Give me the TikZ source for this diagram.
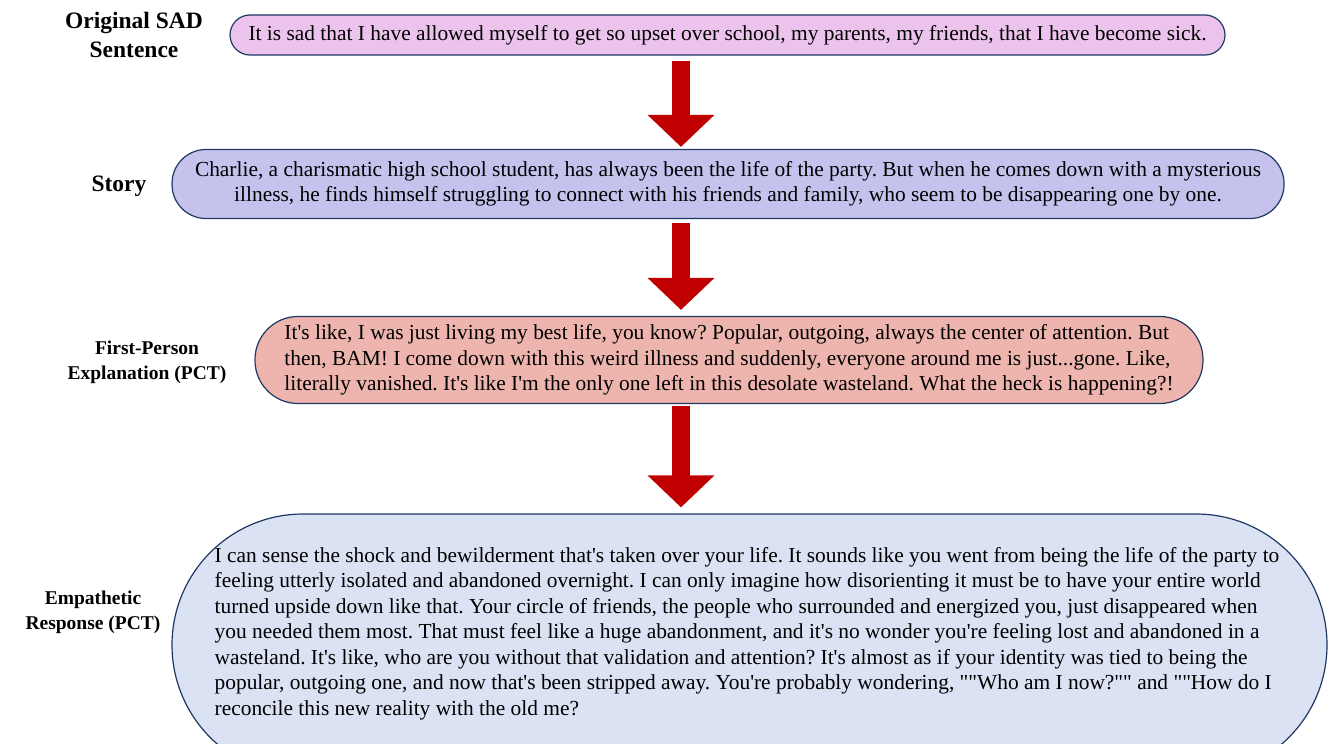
\documentclass[tikz,border=0pt]{standalone}
\usepackage{fontspec}
\setmainfont{Liberation Serif}[Ligatures=TeXOff]
\usepackage{xcolor}
\usetikzlibrary{arrows.meta}
\definecolor{boxline}{HTML}{1F3864}
\definecolor{sadfill}{HTML}{ECC3EC}
\definecolor{storyfill}{HTML}{C5C2EE}
\definecolor{pctfill}{HTML}{EDB5AE}
\definecolor{respfill}{HTML}{DAE2F3}
\definecolor{flowred}{HTML}{C00000}

\begin{document}
\frenchspacing
\begin{tikzpicture}[x=1pt,y=-1pt,
  box/.style={draw=boxline,line width=1.2pt,inner sep=0pt,align=center,
    font=\fontsize{21.4}{25.5}\selectfont},
  biglabel/.style={align=center,font=\bfseries\fontsize{23.5}{28.5}\selectfont},
  smalllabel/.style={align=center,font=\bfseries\fontsize{19.5}{25}\selectfont},
  flow/.style={draw=flowred,line width=18pt,-{Triangle[width=65pt,length=32pt]}}]
\useasboundingbox (0,0) rectangle (1328,744);

\node[box,fill=sadfill,minimum width=995pt,minimum height=40pt,rounded corners=20pt] (sad) at (727.5,35)
  {\raisebox{-2pt}{It is sad that I have allowed myself to get so upset over school, my parents, my friends, that I have become sick.}};
\node[box,fill=storyfill,minimum width=1112pt,minimum height=69pt,rounded corners=34pt] (story) at (728,184)
  {Charlie, a charismatic high school student, has always been the life of the party. But when he comes down with a mysterious\\
   illness, he finds himself struggling to connect with his friends and family, who seem to be disappearing one by one.};
\node[box,fill=pctfill,align=left,minimum width=948pt,minimum height=87pt,rounded corners=43pt] (pct) at (729,360)
  {It's like, I was just living my best life, you know? Popular, outgoing, always the center of attention. But\\
   then, BAM! I come down with this weird illness and suddenly, everyone around me is just...gone. Like,\\
   literally vanished. It's like I'm the only one left in this desolate wasteland. What the heck is happening?!};
\node[box,fill=respfill,minimum width=1155pt,minimum height=262pt,rounded corners=131pt] (resp) at (749.5,645) {};
\node[box,draw=none,align=left] (resptext) at (747,633.5)
  {I can sense the shock and bewilderment that's taken over your life. It sounds like you went from being the life of the party to\\
   feeling utterly isolated and abandoned overnight. I can only imagine how disorienting it must be to have your entire world\\
   turned upside down like that. Your circle of friends, the people who surrounded and energized you, just disappeared when\\
   you needed them most. That must feel like a huge abandonment, and it's no wonder you're feeling lost and abandoned in a\\
   wasteland. It's like, who are you without that validation and attention? It's almost as if your identity was tied to being the\\
   popular, outgoing one, and now that's been stripped away. You're probably wondering, ""Who am I now?"" and ""How do I\\
   reconcile this new reality with the old me?};

\node[biglabel] (sadlabel) at (134,35) {Original SAD\\Sentence};
\node[biglabel] (storylabel) at (119,186) {Story};
\node[smalllabel] (pctlabel) at (147,362) {First-Person\\Explanation (PCT)};
\node[smalllabel] (resplabel) at (93,612) {Empathetic\\Response (PCT)};

\coordinate (ax) at (681,0);
\draw[flow,shorten <=5pt,shorten >=2pt] (sad.south -| ax) -- (story.north -| ax);
\draw[flow,shorten <=4pt,shorten >=6pt] (story.south -| ax) -- (pct.north -| ax);
\draw[flow,shorten <=2pt,shorten >=6pt] (pct.south -| ax) -- (resp.north -| ax);

\end{tikzpicture}
\end{document}
